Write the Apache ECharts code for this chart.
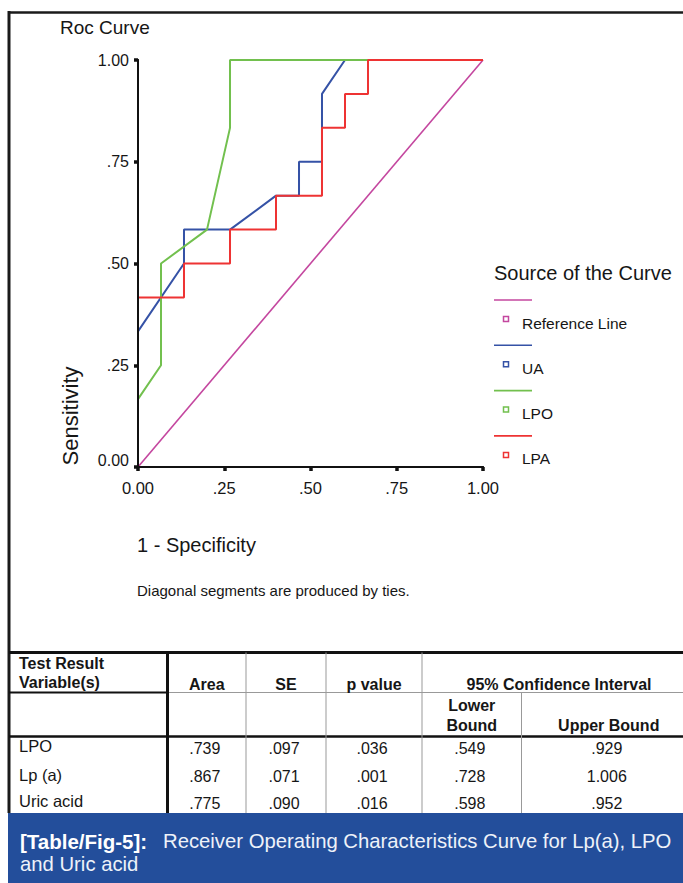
<!DOCTYPE html>
<html>
<head>
<meta charset="utf-8">
<script src="https://cdn.jsdelivr.net/npm/echarts@6/dist/echarts.min.js"></script>
<style>
html,body{margin:0;padding:0;background:#fff;}
#chart{width:683px;height:883px;}
</style>
</head>
<body>
<div id="chart"></div>
<script>
// ---- data ----
const axisTickLabels = ['0.00', '.25', '.50', '.75', '1.00'];
const referenceLine = [[0, 0], [1, 1]];
const uaCurve = [[0, 0], [0, 0.3333], [0.1333, 0.5], [0.1333, 0.5833], [0.2667, 0.5833], [0.4, 0.6667], [0.4667, 0.6667], [0.4667, 0.75], [0.5333, 0.75], [0.5333, 0.9167], [0.6, 1], [1, 1]];
const lpoCurve = [[0, 0], [0, 0.1667], [0.0667, 0.25], [0.0667, 0.5], [0.2, 0.5833], [0.2667, 0.8333], [0.2667, 1], [1, 1]];
const lpaCurve = [[0, 0], [0, 0.4167], [0.1333, 0.4167], [0.1333, 0.5], [0.2667, 0.5], [0.2667, 0.5833], [0.4, 0.5833], [0.4, 0.6667], [0.5333, 0.6667], [0.5333, 0.8333], [0.6, 0.8333], [0.6, 0.9167], [0.6667, 0.9167], [0.6667, 1], [1, 1]];
const legendNames = ['Reference Line', 'UA', 'LPO', 'LPA'];

const tableRowNames = ['LPO', 'Lp (a)', 'Uric acid'];
const areaValues = ['.739', '.867', '.775'];
const seValues = ['.097', '.071', '.090'];
const pValues = ['.036', '.001', '.016'];
const lowerBounds = ['.549', '.728', '.598'];
const upperBounds = ['.929', '1.006', '.952'];

// ---- styles ----
const FONT = 'Liberation Sans, Arial, sans-serif';
const colors = ['#c4479f', '#3552a6', '#72c04e', '#ee3333'];
const curves = [referenceLine, uaCurve, lpoCurve, lpaCurve];

const chart = echarts.init(document.getElementById('chart'), null, {renderer: 'svg'});

function labelFor(v) {
  const i = Math.round(v / 0.25);
  return axisTickLabels[i];
}

const graphics = [];
function txt(x, y, text, size, opts) {
  opts = opts || {};
  graphics.push({
    type: 'text', x: x, y: y, rotation: opts.rotation || 0, z: 20,
    style: {
      text: text, fill: opts.fill || '#161616',
      font: (opts.weight || 'normal') + ' ' + size + 'px ' + FONT,
      align: opts.align || 'left', verticalAlign: 'middle'
    }
  });
}
function line(x1, y1, x2, y2, color, w) {
  graphics.push({
    type: 'line', z: 15,
    shape: {x1: x1, y1: y1, x2: x2, y2: y2},
    style: {stroke: color, lineWidth: w}
  });
}

// outer frame
line(9, 12.5, 690, 12.5, '#1a1a1a', 2.5);
line(9, 11, 9, 813, '#1a1a1a', 3);

// titles
txt(60, 27, 'Roc Curve', 19);
txt(70, 416, 'Sensitivity', 22, {rotation: Math.PI / 2, align: 'center'});
txt(137, 545, '1 - Specificity', 20);
txt(137, 590, 'Diagonal segments are produced by ties.', 15);

// legend
txt(494, 273, 'Source of the Curve', 20);
legendNames.forEach(function (name, i) {
  const dy = i * 45.3;
  line(494, 300 + dy, 532, 300 + dy, colors[i], 1.6);
  graphics.push({
    type: 'rect', z: 15,
    shape: {x: 503.5, y: 316.5 + dy, width: 5, height: 5},
    style: {fill: '#fff', stroke: colors[i], lineWidth: 1.5}
  });
  txt(522, 323 + dy, name, 15.5);
});

// table
const colX = [9, 167.5, 246, 326, 422, 521.5, 696];
const yTop = 652.5, yRow1 = 692.5, yRow2 = 736.5, yBot = 813;
line(9, yTop, 690, yTop, '#111', 3);
line(9, yRow1, colX[1], yRow1, '#111', 2);
line(colX[1], yRow1, 690, yRow1, '#999', 1);
line(9, yRow2, 690, yRow2, '#111', 2.5);
line(colX[1], yTop, colX[1], yBot, '#111', 3);
[2, 3, 4].forEach(function (c) { line(colX[c], yTop, colX[c], yBot, '#999', 1); });
line(colX[5], yRow1, colX[5], yBot, '#999', 1);

function center(c) { return (colX[c] + colX[c + 1]) / 2; }
txt(19, 663, 'Test Result', 16, {weight: 'bold'});
txt(19, 682, 'Variable(s)', 16, {weight: 'bold'});
txt(center(1), 684, 'Area', 16, {weight: 'bold', align: 'center'});
txt(center(2), 684, 'SE', 16, {weight: 'bold', align: 'center'});
txt(center(3), 684, 'p value', 16, {weight: 'bold', align: 'center'});
txt((colX[4] + colX[6]) / 2, 684, '95% Confidence Interval', 16, {weight: 'bold', align: 'center'});
txt(center(4), 705, 'Lower', 16, {weight: 'bold', align: 'center'});
txt(center(4), 725, 'Bound', 16, {weight: 'bold', align: 'center'});
txt(center(5), 725, 'Upper Bound', 16, {weight: 'bold', align: 'center'});

const rowY = [746, 774.5, 801];
const numCols = [areaValues, seValues, pValues, lowerBounds, upperBounds];
tableRowNames.forEach(function (name, r) {
  txt(19, rowY[r], name, 16.5);
  numCols.forEach(function (arr, c) {
    txt(center(c + 1) - 2, rowY[r] + 2, arr[r], 16, {align: 'center'});
  });
});

// caption bar
graphics.push({
  type: 'rect', z: 10,
  shape: {x: 8, y: 813, width: 680, height: 72},
  style: {fill: '#234e9b'}
});
txt(20, 841, '[Table/Fig-5]:', 20.5, {weight: 'bold', fill: '#ffffff'});
txt(163, 841, 'Receiver Operating Characteristics Curve for Lp(a), LPO', 20.3, {fill: '#eef2f9'});
txt(20, 864, 'and Uric acid', 20.3, {fill: '#eef2f9'});

const series = curves.map(function (data, i) {
  return {
    type: 'line',
    name: legendNames[i],
    data: data,
    showSymbol: false,
    symbol: 'none',
    animation: false,
    z: 3 + i,
    lineStyle: {color: colors[i], width: i === 0 ? 1.6 : 2}
  };
});

const blackAxisLine = {show: true, lineStyle: {color: '#111', width: 2}};

chart.setOption({
  animation: false,
  backgroundColor: '#ffffff',
  grid: {left: 138, top: 60, width: 345, height: 407, containLabel: false},
  xAxis: [{
    type: 'value', min: 0, max: 1, interval: 0.25, position: 'bottom', z: 10,
    axisLine: blackAxisLine,
    axisTick: {show: true, length: 4, lineStyle: {color: '#111', width: 3.5}},
    axisLabel: {formatter: labelFor, color: '#161616', fontSize: 16.5, fontFamily: FONT, margin: 12},
    splitLine: {show: false}
  }, {
    type: 'value', min: 0, max: 1, interval: 0.25, position: 'top', z: 0,
    axisLine: blackAxisLine, axisTick: {show: false}, axisLabel: {show: false}, splitLine: {show: false}
  }],
  yAxis: [{
    type: 'value', min: 0, max: 1, interval: 0.25, position: 'left', z: 10,
    axisLine: blackAxisLine,
    axisTick: {show: true, length: 4, lineStyle: {color: '#111', width: 3.5}},
    axisLabel: {
      formatter: function (v) { return v === 0 ? '{z|' + labelFor(v) + '}' : labelFor(v); },
      rich: {z: {padding: [0, 0, 14, 0], fontSize: 16, fontFamily: FONT, color: '#161616'}},
      color: '#161616', fontSize: 16, fontFamily: FONT, margin: 9
    },
    splitLine: {show: false}
  }, {
    type: 'value', min: 0, max: 1, interval: 0.25, position: 'right', z: 0,
    axisLine: blackAxisLine, axisTick: {show: false}, axisLabel: {show: false}, splitLine: {show: false}
  }],
  series: series,
  graphic: graphics
});
</script>
</body>
</html>
